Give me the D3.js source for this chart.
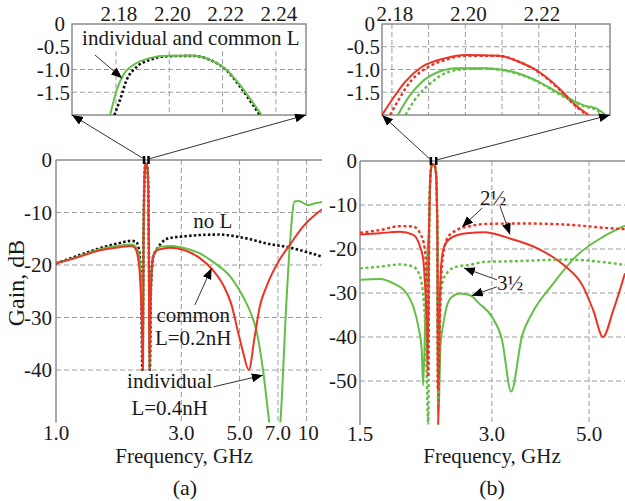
<!DOCTYPE html>
<html>
<head>
<meta charset="utf-8">
<script src="https://cdn.jsdelivr.net/npm/d3@7"></script>
<style>
  body { margin: 0; background: #fff; }
  svg text { font-family: "Liberation Serif", "Times New Roman", serif; fill: #1a1a1a; }
</style>
</head>
<body>
<svg id="chart" width="625" height="501"></svg>
<script>
// ---------- data: [frequency GHz, gain dB] ----------

// panel (a), shared passband spike between the two notches
const passA = [[2.155,-14],[2.168,-5],[2.18,-1.6],[2.19,-0.85],[2.2,-0.7],[2.212,-0.75],[2.224,-1.2],[2.236,-2.6],[2.248,-7],[2.258,-18]];

const noLA = [[1.0,-19.7],[1.2,-18.3],[1.47,-16.8],[1.75,-15.8],[1.94,-15.4],[2.02,-15.6],[2.06,-16.6],[2.09,-19],[2.115,-26],[2.132,-40]]
  .concat(passA,
  [[2.278,-40],[2.295,-26],[2.32,-20.5],[2.344,-18.4],[2.42,-17],[2.5,-16],[2.6,-15.2],[2.75,-14.8],[3.0,-14.6],[3.5,-14.3],[4.2,-14.2],[4.9,-14.6],[5.5,-15.1],[6.33,-15.9],[7.64,-16.6],[9.4,-17.8],[10.3,-18.4]]);

const individualA = [[1.0,-19.6],[1.2,-18.5],[1.47,-17.0],[1.75,-16.3],[1.94,-16.1],[2.03,-16.8],[2.07,-18],[2.1,-21.5],[2.125,-28],[2.142,-40]]
  .concat(passA,
  [[2.27,-40],[2.29,-27],[2.32,-20],[2.35,-18],[2.42,-17],[2.5,-16.5],[2.75,-16.4],[3.05,-16.7],[3.53,-17.8],[3.96,-19.4],[4.66,-22.5],[5.15,-26],[5.5,-29],[5.8,-32.5],[6.14,-40],[6.47,-49.5],[6.8,-58],[7.15,-50],[7.54,-27],[7.76,-16.5],[8.1,-7.9],[8.4,-7.8],[9.1,-8.6],[9.6,-8.3],[10.3,-8.0]]);

const commonA = [[1.0,-19.7],[1.2,-18.6],[1.47,-17.2],[1.75,-16.6],[1.94,-16.4],[2.0,-16.8],[2.05,-18.5],[2.09,-22.5],[2.12,-30],[2.145,-40]]
  .concat(passA,
  [[2.27,-40],[2.29,-28],[2.31,-22],[2.344,-18.5],[2.42,-17.2],[2.49,-17],[2.71,-16.7],[3.05,-17.1],[3.53,-18.7],[3.96,-21],[4.33,-23.8],[4.66,-27.6],[4.93,-32.7],[5.15,-36.5],[5.42,-40],[5.71,-33.6],[5.97,-27.9],[6.33,-24.1],[7.1,-19],[7.76,-16.2],[8.72,-12.7],[10.3,-9.4]]);

// panel (a) zoomed passband
const insetDomainA = [2.1635, 2.2513];
const individualInsetA = [[2.1778,-2.0],[2.1803,-1.45],[2.1827,-1.12],[2.1865,-0.90],[2.1927,-0.75],[2.199,-0.70],[2.209,-0.70],[2.2153,-0.79],[2.2215,-1.01],[2.2265,-1.34],[2.2315,-1.74],[2.2346,-2.0]];
const noLInsetA = [[2.1794,-2.0],[2.1815,-1.67],[2.184,-1.23],[2.1878,-0.94],[2.1927,-0.79],[2.199,-0.71],[2.209,-0.70],[2.2153,-0.79],[2.2215,-1.02],[2.2265,-1.37],[2.2312,-1.76],[2.234,-2.0]];

// panel (b), shared passband spike
const passB = [[2.158,-14],[2.168,-5],[2.18,-1.6],[2.19,-0.85],[2.2,-0.7],[2.212,-0.75],[2.224,-1.2],[2.236,-2.6],[2.246,-8],[2.254,-20]];

const red25B = [[1.5,-16.7],[1.666,-16.4],[1.85,-16.1],[1.985,-16.8],[2.057,-19.5],[2.092,-22.5],[2.11,-27.7],[2.128,-36],[2.14,-47]]
  .concat(passB,
  [[2.262,-60],[2.285,-30],[2.304,-22.5],[2.345,-19],[2.45,-17.2],[2.63,-16.4],[2.9,-16.2],[3.0,-16.4],[3.3,-17.6],[3.8,-19.8],[4.37,-23.6],[4.85,-28.6],[5.11,-33.9],[5.38,-40],[5.68,-33.9],[6.04,-25.5]]);

const red25DotB = [[1.5,-16.3],[1.666,-15.7],[1.85,-14.8],[1.985,-14.9],[2.057,-16.4],[2.11,-20.2],[2.13,-30],[2.145,-49]]
  .concat(passB,
  [[2.258,-52],[2.29,-30],[2.325,-21],[2.386,-17.2],[2.494,-15.7],[2.675,-14.8],[2.9,-14.3],[3.5,-14.2],[4.5,-14.5],[5.6,-15.3],[6.04,-15.5]]);

const green35B = [[1.5,-27],[1.666,-26.8],[1.787,-27.8],[1.917,-30.1],[1.985,-33.1],[2.039,-37.7],[2.075,-43],[2.09,-51],[2.115,-35],[2.14,-20]]
  .concat(passB,
  [[2.262,-60],[2.29,-42],[2.325,-36.9],[2.366,-33.1],[2.43,-30.9],[2.54,-30.1],[2.675,-30.5],[2.8,-32.3],[3.0,-35.4],[3.165,-40.7],[3.32,-52.4],[3.515,-39.8],[3.707,-34.6],[4.116,-28.2],[4.686,-21.5],[5.39,-17.2],[6.04,-14.7]]);

const green35DotB = [[1.5,-24.4],[1.666,-24],[1.85,-23.5],[1.985,-24],[2.057,-26.3],[2.085,-29.3],[2.11,-36],[2.125,-45],[2.148,-60]]
  .concat(passB,
  [[2.262,-55],[2.285,-35],[2.304,-28.6],[2.366,-25.5],[2.494,-24],[2.675,-23.6],[2.9,-22.9],[3.3,-22.8],[4.5,-22.4],[5.4,-23],[6.04,-23.6]]);

// panel (b) zoomed passband
const insetDomainB = [2.1773, 2.2394];
const red25InsetB = [[2.1773,-2.0],[2.18,-1.67],[2.1836,-1.27],[2.1882,-0.94],[2.1946,-0.75],[2.2,-0.68],[2.2091,-0.70],[2.2146,-0.83],[2.22,-1.05],[2.2255,-1.41],[2.23,-1.78],[2.2336,-2.0]];
const red25DotInsetB = [[2.1795,-2.0],[2.1818,-1.67],[2.1854,-1.23],[2.19,-0.94],[2.1946,-0.79],[2.2,-0.70],[2.2091,-0.70],[2.2146,-0.83],[2.22,-1.06],[2.2255,-1.43],[2.23,-1.8],[2.2332,-2.0]];
const green35InsetB = [[2.1816,-2.0],[2.1846,-1.6],[2.1882,-1.27],[2.1928,-1.05],[2.1973,-0.97],[2.2055,-0.97],[2.2128,-1.05],[2.22,-1.27],[2.2255,-1.52],[2.23,-1.71],[2.2328,-1.80],[2.2355,-1.85],[2.2382,-2.0]];
const green35DotInsetB = [[2.1837,-2.0],[2.1862,-1.67],[2.19,-1.34],[2.1946,-1.08],[2.1991,-1.0],[2.2055,-0.98],[2.2128,-1.06],[2.22,-1.28],[2.2255,-1.54],[2.23,-1.73],[2.2328,-1.82],[2.2355,-1.88],[2.2373,-2.0]];

// ticks
const yTicksA = [0, -10, -20, -30, -40];
const xGridA = [3, 5, 7, 9];
const xTickValsA = [1, 3, 5, 7, 10];
const xTickLabelsA = ["1.0", "3.0", "5.0", "7.0", "10"];
const yTicksB = [0, -10, -20, -30, -40, -50];
const xGridB = [3, 5];
const xTickValsB = [1.5, 3, 5];
const xTickLabelsB = ["1.5", "3.0", "5.0"];
const insetYTicks = [0, -0.5, -1.0, -1.5];
const insetXTicksA = [2.18, 2.20, 2.22, 2.24];
const insetXGridB = [2.18, 2.19, 2.20, 2.21, 2.22, 2.23];
const insetXTicksB = [2.18, 2.20, 2.22];

// annotations, positioned in data units
const notesA = [
  {t: "no L", f: 3.95, db: -13.0},
  {t: "common", f: 3.33, db: -30.9},
  {t: "L=0.2nH", f: 3.33, db: -35.2},
  {t: "individual", f: 2.71, db: -43.4},
  {t: "L=0.4nH", f: 2.71, db: -48.6}
];
const arrowsA = [
  {from: [3.38, -27.6], to: [3.91, -20.6]},
  {from: [3.98, -43.2], to: [6.13, -41.0]}
];
const notesB = [
  {t: "2\u00BD", f: 3.02, db: -10.0},
  {t: "3\u00BD", f: 3.30, db: -29.3}
];
const arrowsB = [
  {from: [2.85, -10.7], to: [2.565, -15.0]},
  {from: [3.13, -10.2], to: [3.30, -16.7]},
  {from: [3.08, -27.0], to: [2.59, -24.3]},
  {from: [3.08, -28.6], to: [2.70, -30.6]}
];

const RED = "#ec3326", GREEN = "#63bf45", BLACK = "#111";
const GRID = "#9c9c9c", FRAME = "#8c8c8c";

// ---------- drawing ----------
const svg = d3.select("#chart");
const defs = svg.append("defs");
defs.append("marker").attr("id", "head")
    .attr("markerUnits", "userSpaceOnUse")
    .attr("markerWidth", 12).attr("markerHeight", 10)
    .attr("refX", 11).attr("refY", 4.5).attr("orient", "auto")
  .append("path").attr("d", "M0,0 L11,4.5 L0,9 Z").attr("fill", "#000");

// scales
const xA = d3.scaleLog().domain([1, 10.3]).range([56, 322]);
const yA = d3.scaleLinear().domain([-50, 0]).range([422.5, 160]);
const xB = d3.scaleLog().domain([1.5, 6.04]).range([360, 625]);
const yB = d3.scaleLinear().domain([-60, 0]).range([425, 161]);
const xIA = d3.scaleLinear().domain(insetDomainA).range([72, 306]);
const yIA = d3.scaleLinear().domain([-2, 0]).range([115, 24]);
const xIB = d3.scaleLinear().domain(insetDomainB).range([382, 610]);
const yIB = d3.scaleLinear().domain([-2, 0]).range([115, 24]);

function drawGrid(g, x, y, yGrid, xGrid, vTop) {
  const [x0, x1] = x.range(), [yb, yt] = y.range();
  g.append("g").selectAll("line").data(yGrid).join("line")
    .attr("x1", x0).attr("x2", x1)
    .attr("y1", d => y(d)).attr("y2", d => y(d))
    .attr("stroke", GRID).attr("stroke-width", 1).attr("stroke-dasharray", "5,3");
  g.append("g").selectAll("line").data(xGrid).join("line")
    .attr("x1", d => x(d)).attr("x2", d => x(d))
    .attr("y1", vTop === undefined ? yt : y(vTop)).attr("y2", yb)
    .attr("stroke", GRID).attr("stroke-width", 1).attr("stroke-dasharray", "5,3");
}

function drawSeries(g, x, y, list, clipId) {
  const [x0, x1] = x.range(), [yb, yt] = y.range();
  defs.append("clipPath").attr("id", clipId)
    .append("rect").attr("x", x0).attr("y", yt).attr("width", x1 - x0).attr("height", yb - yt);
  const line = d3.line().x(d => x(d[0])).y(d => y(d[1])).curve(d3.curveMonotoneX);
  const sg = g.append("g").attr("clip-path", `url(#${clipId})`);
  list.forEach(s => {
    sg.append("path").attr("d", line(s.data))
      .attr("fill", "none").attr("stroke", s.color)
      .attr("stroke-width", s.w).attr("stroke-dasharray", s.dash || null)
      .attr("stroke-linejoin", "round");
  });
}

function drawArrows(g, x, y, list) {
  g.append("g").selectAll("line").data(list).join("line")
    .attr("x1", d => x(d.from[0])).attr("y1", d => y(d.from[1]))
    .attr("x2", d => x(d.to[0])).attr("y2", d => y(d.to[1]))
    .attr("stroke", "#333").attr("stroke-width", 1)
    .attr("marker-end", "url(#head)");
}

function drawNotes(g, x, y, list) {
  g.append("g").selectAll("text").data(list).join("text")
    .attr("x", d => x(d.f)).attr("y", d => y(d.db))
    .attr("text-anchor", "middle").attr("font-size", 21)
    .text(d => d.t);
}

// main panel: left axis + top frame + tick labels
function drawMain(g, x, y, yTicks, xGrid, xVals, xLabels, labelX, labelY) {
  const [x0, x1] = x.range(), [yb, yt] = y.range();
  drawGrid(g, x, y, yTicks.filter(d => d !== 0), xGrid);
  g.append("line").attr("x1", x0).attr("x2", x0).attr("y1", yt).attr("y2", yb)
    .attr("stroke", FRAME).attr("stroke-width", 1.5);
  g.append("line").attr("x1", x0).attr("x2", x1).attr("y1", yt).attr("y2", yt)
    .attr("stroke", FRAME).attr("stroke-width", 1.5);
  g.append("g").selectAll("text").data(yTicks).join("text")
    .attr("x", labelX).attr("y", d => y(d)).attr("dy", "0.35em")
    .attr("text-anchor", "end").attr("font-size", 21)
    .text(d => String(d));
  g.append("g").selectAll("text").data(xVals).join("text")
    .attr("x", d => x(d)).attr("y", labelY)
    .attr("text-anchor", (d, i) => (i === xVals.length - 1 && d === 10) ? "end" : "middle")
    .attr("font-size", 21)
    .text((d, i) => xLabels[i]);
}

function drawInset(g, x, y, xGrid, xTicks, yGrid, vTop) {
  const [x0, x1] = x.range(), [yb, yt] = y.range();
  drawGrid(g, x, y, yGrid, xGrid, vTop);
  g.append("rect").attr("x", x0).attr("y", yt).attr("width", x1 - x0).attr("height", yb - yt)
    .attr("fill", "none").attr("stroke", FRAME).attr("stroke-width", 1.5);
  g.append("g").selectAll("text").data(insetYTicks).join("text")
    .attr("x", d => d === 0 ? x0 - 7 : x0 - 2).attr("y", d => y(d)).attr("dy", "0.35em")
    .attr("text-anchor", "end").attr("font-size", 21)
    .text(d => d === 0 ? "0" : d.toFixed(1));
  g.append("g").selectAll("text").data(xTicks).join("text")
    .attr("x", d => x(d) + 3).attr("y", 21)
    .attr("text-anchor", "middle").attr("font-size", 21)
    .text(d => d.toFixed(2));
}

// zoom markers on the main plot + connector arrows to the inset corners
function drawZoomLinks(g, x, y, dom, xi, yi) {
  const top = y.range()[1];
  g.append("g").selectAll("line").data(dom).join("line")
    .attr("x1", d => x(d)).attr("x2", d => x(d))
    .attr("y1", top - 4).attr("y2", top + 4)
    .attr("stroke", "#000").attr("stroke-width", 2.5);
  const corners = [xi.range()[0], xi.range()[1]];
  g.append("g").selectAll("line").data(dom).join("line")
    .attr("x1", d => x(d)).attr("y1", top - 1)
    .attr("x2", (d, i) => corners[i]).attr("y2", yi.range()[0])
    .attr("stroke", "#333").attr("stroke-width", 1)
    .attr("marker-end", "url(#head)");
}

// ----- panel (a) -----
const gA = svg.append("g");
drawMain(gA, xA, yA, yTicksA, xGridA, xTickValsA, xTickLabelsA, 52, 440);
drawSeries(gA, xA, yA, [
  {data: noLA, color: BLACK, w: 2.6, dash: "2.5,2.2"},
  {data: individualA, color: GREEN, w: 2},
  {data: commonA, color: RED, w: 2}
], "clipA");
drawNotes(gA, xA, yA, notesA);
drawArrows(gA, xA, yA, arrowsA);

drawInset(gA, xIA, yIA, insetXTicksA, insetXTicksA, [-1.0, -1.5], -0.6);
drawSeries(gA, xIA, yIA, [
  {data: noLInsetA, color: BLACK, w: 2.6, dash: "2.5,2.2"},
  {data: individualInsetA, color: GREEN, w: 2}
], "clipIA");
drawNotes(gA, xIA, yIA, [{t: "individual and common L", f: 2.2081, db: -0.46}]);
drawArrows(gA, xIA, yIA, [{from: [2.1721, -0.68], to: [2.1823, -1.19]}]);
drawZoomLinks(gA, xA, yA, insetDomainA, xIA, yIA);

gA.append("text").attr("transform", "translate(24,283) rotate(-90)")
  .attr("text-anchor", "middle").attr("font-size", 24).text("Gain, dB");
gA.append("text").attr("x", 184).attr("y", 463).attr("text-anchor", "middle")
  .attr("font-size", 21).text("Frequency, GHz");
gA.append("text").attr("x", 185).attr("y", 495).attr("text-anchor", "middle")
  .attr("font-size", 22).text("(a)");

// ----- panel (b) -----
const gB = svg.append("g");
drawMain(gB, xB, yB, yTicksB, xGridB, xTickValsB, xTickLabelsB, 357, 441);
drawSeries(gB, xB, yB, [
  {data: green35B, color: GREEN, w: 2},
  {data: red25B, color: RED, w: 2},
  {data: green35DotB, color: GREEN, w: 2.4, dash: "3,2.5"},
  {data: red25DotB, color: RED, w: 2.4, dash: "3,2.5"}
], "clipB");
drawNotes(gB, xB, yB, notesB);
drawArrows(gB, xB, yB, arrowsB);

drawInset(gB, xIB, yIB, insetXGridB, insetXTicksB, [-0.5, -1.0, -1.5]);
drawSeries(gB, xIB, yIB, [
  {data: green35InsetB, color: GREEN, w: 2},
  {data: red25InsetB, color: RED, w: 2},
  {data: green35DotInsetB, color: GREEN, w: 2.4, dash: "3,2.5"},
  {data: red25DotInsetB, color: RED, w: 2.4, dash: "3,2.5"}
], "clipIB");
drawZoomLinks(gB, xB, yB, insetDomainB, xIB, yIB);

gB.append("text").attr("x", 492).attr("y", 463).attr("text-anchor", "middle")
  .attr("font-size", 21).text("Frequency, GHz");
gB.append("text").attr("x", 492).attr("y", 495).attr("text-anchor", "middle")
  .attr("font-size", 22).text("(b)");
</script>
</body>
</html>
